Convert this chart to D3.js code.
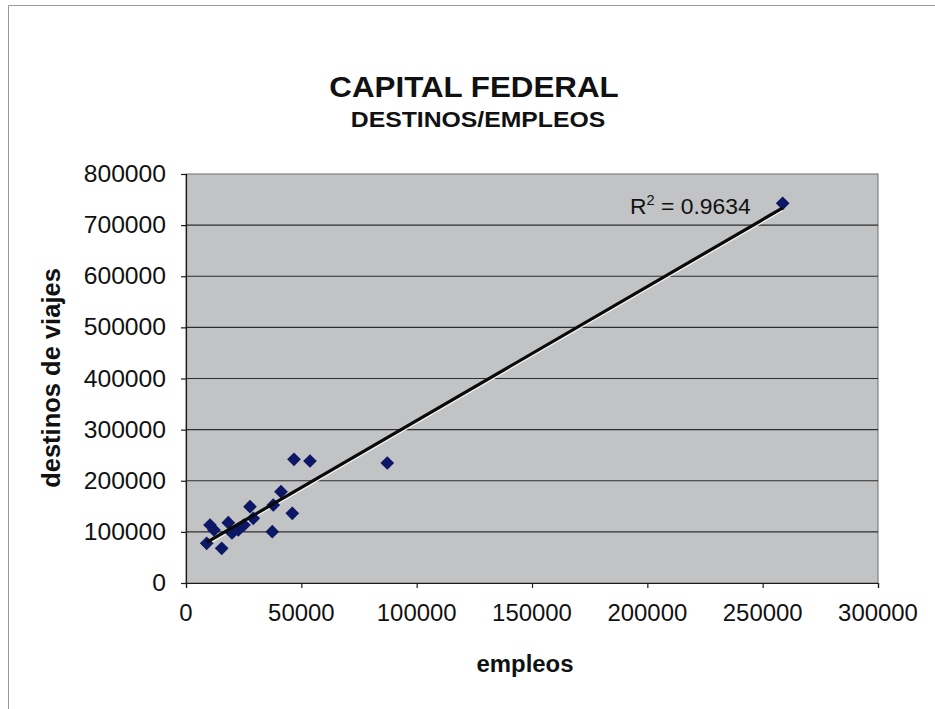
<!DOCTYPE html>
<html>
<head>
<meta charset="utf-8">
<script src="https://cdn.jsdelivr.net/npm/d3@7"></script>
<style>
  body { margin: 0; background: #fff; }
  svg { display: block; font-family: "Liberation Sans", Arial, sans-serif; }
</style>
</head>
<body>
<svg id="chart" width="935" height="709"></svg>
<script>
// Employment (x) vs. trip destinations (y) per zone, Capital Federal
const empleos  = [8970, 10400, 12140, 15480, 18340, 19940, 22670, 25140, 27740, 29170, 37410, 37840, 41180, 46080, 46820, 53750, 87260, 258670];
const destinos = [77650, 113450, 103670, 67870, 117950, 97800, 103670, 113450, 149250, 126550, 100340, 152570, 178580, 136330, 241960, 238630, 234720, 742690];
const xTicks = [0, 50000, 100000, 150000, 200000, 250000, 300000];
const yTicks = [0, 100000, 200000, 300000, 400000, 500000, 600000, 700000, 800000];
const titleText = "CAPITAL FEDERAL";
const subtitleText = "DESTINOS/EMPLEOS";
const xTitle = "empleos";
const yTitle = "destinos de viajes";
const r2Value = "0.9634";

const svg = d3.select("#chart");
const plot = { left: 186, top: 174, right: 878, bottom: 583 };

const x = d3.scaleLinear().domain([0, 300000]).range([plot.left, plot.right]);
const y = d3.scaleLinear().domain([0, 800000]).range([plot.bottom, plot.top]);

// outer chart frame
svg.append("path")
  .attr("d", "M8.5,709 L8.5,5.5 L935,5.5")
  .attr("fill", "none").attr("stroke", "#9a9a9a").attr("stroke-width", 1);

// plot area
svg.append("rect")
  .attr("x", plot.left).attr("y", plot.top)
  .attr("width", plot.right - plot.left).attr("height", plot.bottom - plot.top)
  .attr("fill", "#c1c3c5").attr("stroke", "#6f6f6f").attr("stroke-width", 1);

// horizontal gridlines
svg.append("g").selectAll("line")
  .data(yTicks.filter(d => d > 0 && d < 800000))
  .join("line")
  .attr("x1", plot.left).attr("x2", plot.right)
  .attr("y1", d => y(d)).attr("y2", d => y(d))
  .attr("stroke", "#2e2e2e").attr("stroke-width", 1.2);

// axes
const yAxis = svg.append("g")
  .attr("transform", `translate(${plot.left},0)`)
  .call(d3.axisLeft(y).tickValues(yTicks).tickSize(5).tickFormat(""));
const xAxis = svg.append("g")
  .attr("transform", `translate(0,${plot.bottom})`)
  .call(d3.axisBottom(x).tickValues(xTicks).tickSize(5).tickFormat(""));
[yAxis, xAxis].forEach(g => {
  g.selectAll("path, line").attr("stroke", "#1a1a1a").attr("stroke-width", 1.2);
});

// text helper: lettering is slightly wider than the plain face
function stretchedText(parent, tx, ty, str, opts) {
  return parent.append("text")
    .attr("transform", `translate(${tx},${ty}) scale(${opts.sx || 1},1)`)
    .attr("text-anchor", opts.anchor || "middle")
    .attr("font-size", opts.size)
    .attr("font-weight", opts.weight || "normal")
    .attr("fill", "#111")
    .text(str);
}

// tick labels
yTicks.forEach(v => stretchedText(svg, 166, y(v) + 8, String(v), { anchor: "end", size: 23.5, sx: 1.05 }));
xTicks.forEach(v => stretchedText(svg, x(v), 621, String(v), { size: 23, sx: 1.04 }));

// titles
stretchedText(svg, 474, 97, titleText, { size: 29, weight: "bold", sx: 1.08 });
stretchedText(svg, 478, 127, subtitleText, { size: 22.5, weight: "bold", sx: 1.1 });
stretchedText(svg, 525, 672, xTitle, { size: 23, weight: "bold", sx: 1.04 });
svg.append("text")
  .attr("transform", "translate(60,378) rotate(-90)")
  .attr("text-anchor", "middle")
  .attr("font-size", 25.5).attr("font-weight", "bold").attr("fill", "#111")
  .text(yTitle);

// least-squares trend line
const n = empleos.length;
const mx = d3.mean(empleos), my = d3.mean(destinos);
let sxy = 0, sxx = 0;
for (let i = 0; i < n; i++) {
  sxy += (empleos[i] - mx) * (destinos[i] - my);
  sxx += (empleos[i] - mx) ** 2;
}
const slope = sxy / sxx, intercept = my - slope * mx;
const xMin = d3.min(empleos), xMax = d3.max(empleos);

svg.append("line")
  .attr("x1", x(xMin)).attr("y1", y(slope * xMin + intercept) + 2.4)
  .attr("x2", x(xMax)).attr("y2", y(slope * xMax + intercept) + 2.4)
  .attr("stroke", "#f4f4f4").attr("stroke-width", 1.6);

// markers
const diamond = d3.symbol().type(d3.symbolDiamond2).size(120);
svg.append("g").selectAll("path")
  .data(d3.zip(empleos, destinos))
  .join("path")
  .attr("d", diamond)
  .attr("transform", d => `translate(${x(d[0])},${y(d[1])})`)
  .attr("fill", "#0c1766");

svg.append("line")
  .attr("x1", x(xMin)).attr("y1", y(slope * xMin + intercept))
  .attr("x2", x(xMax)).attr("y2", y(slope * xMax + intercept))
  .attr("stroke", "#0a0a0a").attr("stroke-width", 3.2);

// R² label
const r2 = stretchedText(svg, 630, 214, "", { anchor: "start", size: 22, sx: 1.04 });
r2.append("tspan").text("R");
r2.append("tspan").attr("font-size", 14).attr("dy", -9).text("2");
r2.append("tspan").attr("dy", 9).text(" = " + r2Value);
</script>
</body>
</html>
